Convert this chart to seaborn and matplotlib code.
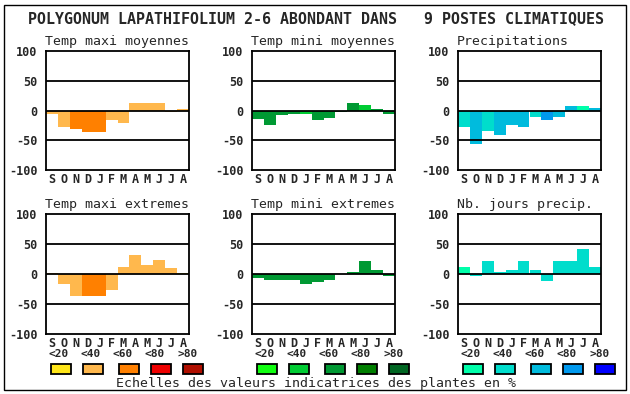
import matplotlib
matplotlib.use("Agg")
import matplotlib.pyplot as plt
import seaborn as sns
import pandas as pd
from matplotlib.patches import Rectangle

sns.set_style("white")
plt.rcParams["font.family"] = ["DejaVu Sans Mono", "DejaVu Sans"]

# --- donnees ---
mois = ["S", "O", "N", "D", "J", "F", "M", "A", "M", "J", "J", "A"]

titres = ["Temp maxi moyennes", "Temp mini moyennes", "Precipitations",
          "Temp maxi extremes", "Temp mini extremes", "Nb. jours precip."]

tmax_moy = [-6, -27, -31, -36, -36, -16, -21, 13, 12, 12, -3, 2]
tmin_moy = [-15, -25, -8, -6, -6, -16, -13, -3, 12, 10, 3, -6]
precip = [-28, -57, -35, -42, -25, -28, -11, -16, -11, 7, 7, 5]
tmax_ext = [2, -16, -36, -37, -36, -27, 12, 32, 15, 24, 10, 2]
tmin_ext = [-7, -10, -10, -10, -17, -14, -10, 0, 4, 21, 7, -4]
nb_jours = [12, -3, 21, 4, 7, 21, 7, -11, 21, 21, 42, 12]

# classe de valeur indicatrice (0:<20 1:<40 2:<60 3:<80 4:>80)
cl_tmax_moy = [1, 1, 2, 2, 2, 1, 1, 1, 1, 1, 1, 1]
cl_tmin_moy = [2, 2, 2, 2, 1, 2, 2, 2, 2, 1, 2, 2]
cl_precip = [1, 2, 1, 2, 2, 2, 1, 3, 2, 2, 0, 2]
cl_tmax_ext = [1, 1, 1, 2, 2, 1, 1, 1, 1, 1, 1, 0]
cl_tmin_ext = [2, 2, 2, 2, 2, 2, 2, 2, 2, 2, 2, 2]
cl_nb_jours = [0, 1, 1, 1, 1, 1, 1, 1, 1, 1, 1, 1]

echelles = ["<20", "<40", "<60", "<80", ">80"]
oranges = ["#FFE619", "#FFB84D", "#FF8000", "#EE0000", "#B00F00"]
verts = ["#11FF11", "#00CC33", "#009933", "#007F00", "#006622"]
bleus = ["#00FFAA", "#00DDCC", "#00BBDD", "#0099EE", "#0000FF"]

series = [tmax_moy, tmin_moy, precip, tmax_ext, tmin_ext, nb_jours]
classes = [cl_tmax_moy, cl_tmin_moy, cl_precip, cl_tmax_ext, cl_tmin_ext, cl_nb_jours]
gammes = [oranges, verts, bleus, oranges, verts, bleus]

fig = plt.figure(figsize=(6.3, 3.94), dpi=100)
W, H = 630, 394

# cadre general
fig.patches.append(Rectangle((4 / W, 1 - 390 / H), 622 / W, 385 / H,
                             transform=fig.transFigure, fill=False,
                             edgecolor="black", lw=1))

fig.text(316 / W, 1 - 19 / H,
         "POLYGONUM LAPATHIFOLIUM 2-6 ABONDANT DANS   9 POSTES CLIMATIQUES",
         ha="center", va="center", fontsize=10.8, fontweight="bold")

col_x = [46, 252, 458]
row_y = [(51, 170), (214, 334)]

for i in range(6):
    r, c = divmod(i, 3)
    x0 = col_x[c]
    y0, y1 = row_y[r]
    ax = fig.add_axes([x0 / W, 1 - y1 / H, 143 / W, (y1 - y0) / H])
    df = pd.DataFrame({"pos": [str(k) for k in range(12)],
                       "val": series[i],
                       "cl": [str(k) for k in classes[i]]})
    pal = {str(k): gammes[i][k] for k in range(5)}
    sns.barplot(data=df, x="pos", y="val", hue="cl", palette=pal,
                width=1, saturation=1, legend=False, dodge=False,
                edgecolor="none", linewidth=0, ax=ax, zorder=2)
    for yv in (50, 0, -50):
        ax.axhline(yv, color="black", lw=1.3, zorder=3)
    ax.set_xlim(-0.5, 11.5)
    ax.set_ylim(-100, 100)
    ax.set_yticks([100, 50, 0, -50, -100])
    ax.set_yticklabels(["100", "50", "0", "-50", "-100"],
                       fontweight="bold", fontsize=8.5)
    ax.set_xticks(range(12))
    ax.set_xticklabels(mois, fontweight="bold", fontsize=8.5)
    ax.tick_params(axis="y", length=0, pad=6)
    ax.tick_params(axis="x", length=0, pad=2.5)
    ax.set_xlabel("")
    ax.set_ylabel("")
    for s in ax.spines.values():
        s.set_color("black")
        s.set_linewidth(1.3)
    ax.set_title(titres[i], loc="left", fontsize=9.5, pad=4, x=-0.01)

# echelles de couleurs
lab_off = [4, 36, 68, 100, 133]
sw_off = [5, 37, 73, 105, 137]
for c in range(3):
    gamme = [oranges, verts, bleus][c]
    for k in range(5):
        fig.text((col_x[c] + lab_off[k] + 9) / W, 1 - 354 / H, echelles[k],
                 ha="center", va="center", fontsize=8, fontweight="bold")
        fig.patches.append(Rectangle(((col_x[c] + sw_off[k]) / W, 1 - 374 / H),
                                     20 / W, 10 / H, transform=fig.transFigure,
                                     facecolor=gamme[k], edgecolor="black", lw=1.3))

fig.text(316 / W, 1 - 383 / H,
         "Echelles des valeurs indicatrices des plantes en %",
         ha="center", va="center", fontsize=9.5)

fig.savefig("out.png", dpi=100)
